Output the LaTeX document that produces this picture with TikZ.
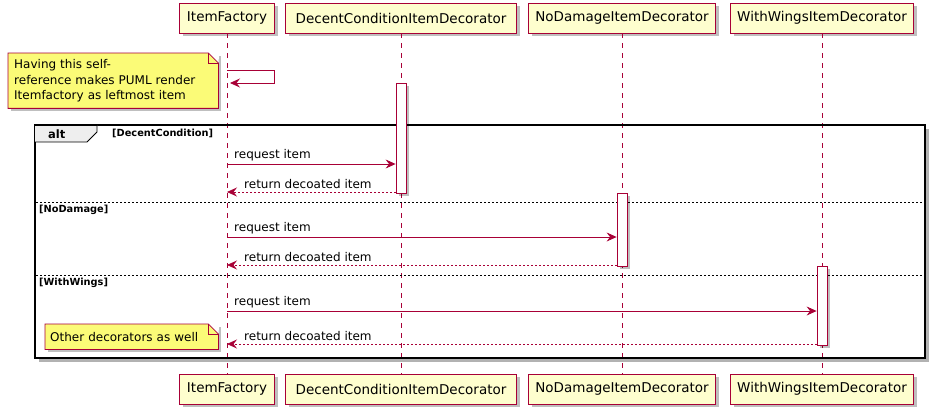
\documentclass[tikz,border=0pt]{standalone}
\usepackage{fontspec}
\setmainfont{DejaVu Sans}
\usetikzlibrary{arrows.meta,shadows}
\definecolor{pred}{HTML}{A80036}
\definecolor{pfill}{HTML}{FEFECE}
\definecolor{nfill}{HTML}{FBFB77}
\definecolor{tabfill}{HTML}{EEEEEE}
\begin{document}
\begin{tikzpicture}[x=1pt,y=-1pt,
  shade/.style={drop shadow={shadow xshift=3pt,shadow yshift=-3pt,opacity=0.25,fill=black}},
  part/.style={draw=pred,fill=pfill,line width=0.8pt,minimum height=30pt,inner sep=0pt,
    font=\fontsize{13.5}{16}\selectfont,shade},
  lifeline/.style={draw=pred,line width=0.8pt,dash pattern=on 5pt off 5pt},
  act/.style={draw=pred,fill=white,line width=0.8pt,minimum width=10pt,inner sep=0pt,shade},
  msg/.style={draw=pred,line width=0.8pt,-{Stealth[length=10pt,width=9pt,inset=3.5pt]}},
  ret/.style={msg,dash pattern=on 2pt off 2pt},
  lbl/.style={anchor=west,inner sep=0pt,font=\fontsize{12}{14}\selectfont},
  guard/.style={anchor=west,inner sep=0pt,font=\fontsize{9.8}{12}\selectfont\bfseries},
  sep/.style={draw=black,line width=0.7pt,dash pattern=on 2pt off 2pt},
  note/.style={fill=nfill,inner xsep=6pt,inner ysep=0pt,align=left,
    font=\fontsize{12}{15.5}\selectfont,shade},
  noteline/.style={draw=pred,line width=0.8pt}
]
\useasboundingbox[fill=white] (0,0) rectangle (936,414);

% alt frame background
\fill[white,drop shadow={shadow xshift=4pt,shadow yshift=-4pt,opacity=0.3,fill=black}] (35,125) rectangle (925,358);

% participants
\node[part,minimum width=95pt]  (tIF) at (227,18) {ItemFactory};
\node[part,minimum width=231pt] (tDC) at (401,18) {DecentConditionItemDecorator};
\node[part,minimum width=187pt] (tND) at (622,18) {NoDamageItemDecorator};
\node[part,minimum width=183pt] (tWW) at (822,18) {WithWingsItemDecorator};
\node[part,minimum width=95pt]  (bIF) at (227,389) {ItemFactory};
\node[part,minimum width=231pt] (bDC) at (401,389) {DecentConditionItemDecorator};
\node[part,minimum width=187pt] (bND) at (622,389) {NoDamageItemDecorator};
\node[part,minimum width=183pt] (bWW) at (822,389) {WithWingsItemDecorator};

% lifelines
\draw[lifeline] (tIF) -- (bIF);
\draw[lifeline] (tDC) -- (bDC);
\draw[lifeline] (tND) -- (bND);
\draw[lifeline] (tWW) -- (bWW);

% alt frame border and tab
\draw[black,line width=1.6pt] (35,125) rectangle (925,358);
\filldraw[fill=tabfill,draw=black,line width=0.8pt] (35,125) -- (97,125) -- (97,132) -- (87,142) -- (35,142);
\draw[black,line width=1.6pt] (35,125) -- (97,125);
\node[anchor=west,inner sep=0pt,font=\fontsize{11.5}{13}\selectfont\bfseries] (altlbl) at (48,134) {alt};
\node[guard] (g1) at (112,133) {[DecentCondition]};
\draw[sep] (36,202) -- (924,202);
\node[guard] (g2) at (39,210) {[NoDamage]};
\draw[sep] (36,275) -- (924,275);
\node[guard] (g3) at (39,283) {[WithWings]};

% activations
\node[act,minimum height=110pt] (aDC) at (401,138) {};
\node[act,minimum height=73pt]  (aND) at (622,229.5) {};
\node[act,minimum height=79pt]  (aWW) at (822,305.5) {};

% self message
\draw[msg,shorten >=3pt] (tIF |- 0,70) -- (274,70) -- (274,83) -- (tIF |- 0,83);

% messages
\draw[msg] (tIF |- 0,164) -- (aDC.west |- 0,164);
\node[lbl] (m1) at (234,155) {request item};
\draw[ret] (aDC.west |- 0,192) -- (tIF |- 0,192);
\node[lbl] (m2) at (244,184) {return decoated item};

\draw[msg] (tIF |- 0,237) -- (aND.west |- 0,237);
\node[lbl] (m3) at (234,228) {request item};
\draw[ret] (aND.west |- 0,265) -- (tIF |- 0,265);
\node[lbl] (m4) at (244,257) {return decoated item};

\draw[msg] (tIF |- 0,311) -- (aWW.west |- 0,311);
\node[lbl] (m5) at (234,302) {request item};
\draw[ret] (aWW.west |- 0,344) -- (tIF |- 0,344);
\node[lbl] (m6) at (244,336) {return decoated item};

% note 1
\node[note,text width=198pt,minimum height=55pt,anchor=north west] (n1) at (8,53)
  {Having this self-\\reference makes PUML render\\Itemfactory as leftmost item};
\fill[white] ([xshift=-10pt]n1.north east) -- ([xshift=1pt,yshift=1pt]n1.north east) -- ([yshift=-10pt]n1.north east) -- cycle;
\draw[noteline] (n1.north west) -- ([xshift=-10pt]n1.north east) -- ([yshift=-10pt]n1.north east) -- (n1.south east) -- (n1.south west) -- cycle;
\draw[noteline] ([xshift=-10pt]n1.north east) -- ([xshift=-10pt,yshift=-10pt]n1.north east) -- ([yshift=-10pt]n1.north east);

% note 2
\node[note,inner xsep=5pt,text width=163pt,minimum height=25pt,anchor=north west] (n2) at (45,324)
  {Other decorators as well};
\fill[white] ([xshift=-10pt]n2.north east) -- ([xshift=1pt,yshift=1pt]n2.north east) -- ([yshift=-10pt]n2.north east) -- cycle;
\draw[noteline] (n2.north west) -- ([xshift=-10pt]n2.north east) -- ([yshift=-10pt]n2.north east) -- (n2.south east) -- (n2.south west) -- cycle;
\draw[noteline] ([xshift=-10pt]n2.north east) -- ([xshift=-10pt,yshift=-10pt]n2.north east) -- ([yshift=-10pt]n2.north east);
\end{tikzpicture}
\end{document}
